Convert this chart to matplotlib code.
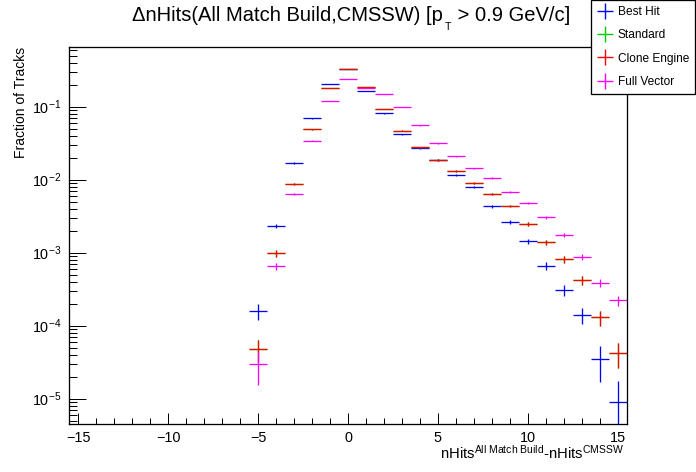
import numpy as np
import matplotlib
matplotlib.use("Agg")
import matplotlib.pyplot as plt
from matplotlib.lines import Line2D
from matplotlib.ticker import LogLocator, NullFormatter, FixedLocator

plt.rcParams['font.family'] = ['Liberation Sans', 'DejaVu Sans']
plt.rcParams['mathtext.fontset'] = 'custom'
plt.rcParams['mathtext.rm'] = 'Liberation Sans'
plt.rcParams['mathtext.it'] = 'Liberation Sans:italic'
plt.rcParams['mathtext.bf'] = 'Liberation Sans:bold'

# ---- data ----
bins = [-5, -4, -3, -2, -1, 0, 1, 2, 3, 4, 5, 6, 7, 8, 9, 10, 11, 12, 13, 14, 15]

best_hit = [1.59e-4, 2.3e-3, 0.0168, 0.0693, 0.203, 0.325, 0.163, 0.081, 0.0419, 0.0269,
            0.0185, 0.0115, 0.00787, 0.00433, 0.0026, 0.00143, 6.6e-4, 3.05e-4, 1.40e-4,
            3.47e-5, 8.9e-6]
best_hit_err = [4.0e-5, 1.45e-4, 3.9e-4, 7.9e-4, 1.36e-3, 1.7e-3, 1.2e-3, 8.6e-4, 6.2e-4,
                4.9e-4, 4.1e-4, 3.2e-4, 2.7e-4, 2.0e-4, 1.54e-4, 1.14e-4, 7.7e-5, 5.3e-5,
                3.5e-5, 1.8e-5, 8.5e-6]

clone_engine = [4.8e-5, 9.8e-4, 8.65e-3, 0.049, 0.179, 0.325, 0.185, 0.092, 0.0465, 0.0278,
                0.0185, 0.0130, 0.0089, 0.0063, 0.00433, 0.00247, 0.00139, 8.1e-4, 4.19e-4,
                1.30e-4, 4.2e-5]
clone_engine_err = [1.6e-5, 1.0e-4, 2.6e-4, 6.1e-4, 1.17e-3, 1.6e-3, 1.2e-3, 8.4e-4, 6.0e-4,
                    4.6e-4, 3.8e-4, 3.2e-4, 2.6e-4, 2.2e-4, 1.8e-4, 1.4e-4, 1.03e-4, 7.9e-5,
                    5.7e-5, 3.0e-5, 1.6e-5]

# Standard is identical to Clone Engine (hidden beneath it)
standard = list(clone_engine)
standard_err = list(clone_engine_err)

full_vector = [2.96e-5, 6.57e-4, 6.3e-3, 0.034, 0.119, 0.237, 0.179, 0.148, 0.098, 0.0555,
               0.0315, 0.0209, 0.0143, 0.0105, 0.00671, 0.00475, 0.00305, 0.00174, 8.7e-4,
               3.85e-4, 2.23e-4]
full_vector_err = [1.4e-5, 7.5e-5, 2.1e-4, 4.9e-4, 9.2e-4, 1.3e-3, 1.1e-3, 1.0e-3, 8.4e-4,
                   6.3e-4, 4.7e-4, 3.9e-4, 3.2e-4, 2.7e-4, 2.2e-4, 1.8e-4, 1.5e-4, 1.1e-4,
                   7.9e-5, 5.2e-5, 3.5e-5]

series_names = ["Best Hit", "Standard", "Clone Engine", "Full Vector"]
series_vals = [best_hit, standard, clone_engine, full_vector]
series_errs = [best_hit_err, standard_err, clone_engine_err, full_vector_err]
series_colors = ["#0000ff", "#00cc00", "#ff0000", "#ff00ff"]

# ---- figure ----
W, H = 696, 472
fig = plt.figure(figsize=(W / 100, H / 100), dpi=100)
L, R, T, B = 69.3, 626.7, 46.7, 424.0
ax = fig.add_axes([L / W, 1 - B / H, (R - L) / W, (B - T) / H])

px = 0.72  # one pixel in points
for vals, errs, col in zip(series_vals, series_errs, series_colors):
    ax.errorbar(bins, vals, xerr=0.5, yerr=errs, fmt='none', ecolor=col,
                elinewidth=1.0 * px * 1.3, capsize=0)

ax.set_yscale('log')
ax.set_xlim(-15.5, 15.5)
ax.set_ylim(4.5e-6, 0.66)

ax.xaxis.set_major_locator(FixedLocator([-15, -10, -5, 0, 5, 10, 15]))
ax.xaxis.set_minor_locator(FixedLocator(list(range(-15, 16))))
ax.yaxis.set_major_locator(LogLocator(base=10, numticks=20))
ax.yaxis.set_minor_locator(LogLocator(base=10, subs=np.arange(2, 10), numticks=20))
ax.yaxis.set_minor_formatter(NullFormatter())

ax.tick_params(axis='both', which='both', direction='in', top=False, right=False,
               width=px, labelsize=10.4, colors='black')
ax.tick_params(axis='x', which='major', length=11.3 * px, pad=5)
ax.tick_params(axis='x', which='minor', length=5.6 * px)
ax.tick_params(axis='y', which='major', length=16.7 * px, pad=6)
ax.tick_params(axis='y', which='minor', length=8.4 * px)
for sp in ax.spines.values():
    sp.set_linewidth(px * 1.3)
    sp.set_color('black')

# axis titles
fig.text(624 / W, 1 - 459 / H,
         r'nHits$^{\mathregular{All\ Match\ Build}}$-nHits$^{\mathregular{CMSSW}}$',
         ha='right', va='baseline', fontsize=10.7)
fig.text(21 / W, 1 - 47 / H, 'Fraction of Tracks', rotation=90,
         ha='center', va='top', fontsize=10)

# title, built from pieces so the subscript T drops like ROOT's
base_y = 1 - 20.7 / H
t1 = fig.text(131.7 / W, base_y, '\u0394nHits(All Match Build,CMSSW) [p',
              ha='left', va='baseline', fontsize=14.5)
renderer = fig.canvas.get_renderer()
bb1 = t1.get_window_extent(renderer)
x_sub = bb1.x1 + 2.0
t2 = fig.text(x_sub / W, 1 - 30.0 / H, 'T', ha='left', va='baseline', fontsize=7.6)
bb2 = t2.get_window_extent(renderer)
fig.text((bb2.x1 + 0.5) / W, base_y, ' > 0.9 GeV/c]', ha='left', va='baseline',
         fontsize=14.5)

# legend
handles = [Line2D([], [], color=c, marker='+', linestyle='none', markersize=11.5,
                  markeredgewidth=1.0) for c in series_colors]
leg = fig.legend(handles, series_names, loc='upper right',
                 bbox_to_anchor=(695 / W, 1.0), bbox_transform=fig.transFigure,
                 fontsize=8.6, frameon=True, fancybox=False, edgecolor='black',
                 framealpha=1, borderpad=0.5, labelspacing=0.95, handlelength=1.3,
                 handletextpad=0.45, borderaxespad=0)
leg.get_frame().set_linewidth(px * 1.3)

fig.savefig('out.png', dpi=100)
